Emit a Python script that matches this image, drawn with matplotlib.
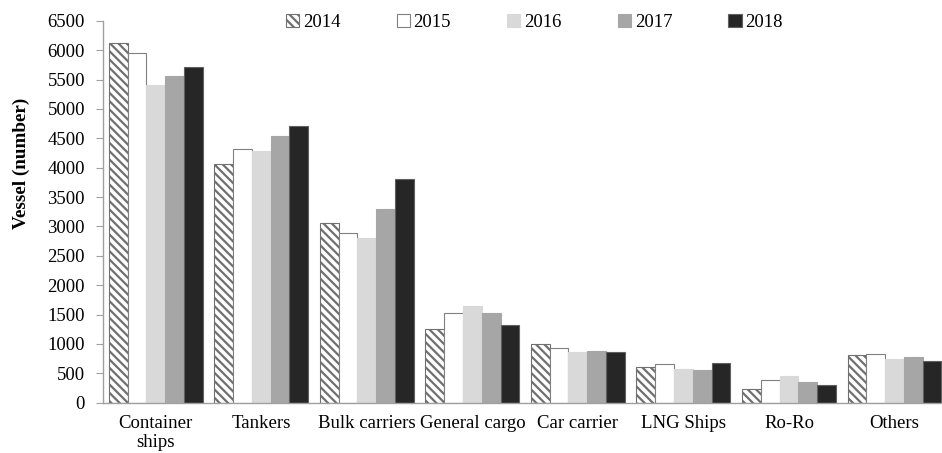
import numpy as np
import matplotlib.pyplot as plt

# vessel counts per ship type
categories = ["Container\nships", "Tankers", "Bulk carriers", "General cargo",
              "Car carrier", "LNG Ships", "Ro-Ro", "Others"]
years = ["2014", "2015", "2016", "2017", "2018"]
v2014 = [6130, 4058, 3052, 1262, 1001, 608, 227, 813]
v2015 = [5950, 4314, 2881, 1528, 932, 665, 387, 824]
v2016 = [5410, 4285, 2796, 1654, 870, 568, 455, 750]
v2017 = [5563, 4535, 3290, 1529, 887, 563, 358, 779]
v2018 = [5712, 4717, 3813, 1325, 864, 677, 302, 711]
series = [v2014, v2015, v2016, v2017, v2018]

# bar styling per year
faces = ["white", "white", "#d9d9d9", "#a6a6a6", "#262626"]
edges = ["#707070", "#808080", "#d9d9d9", "#a6a6a6", "#606060"]
hatches = ["\\\\\\\\", None, None, None, None]

plt.rcParams["font.family"] = ["Liberation Serif", "DejaVu Serif"]
plt.rcParams["font.size"] = 13.5
plt.rcParams["hatch.color"] = "#9a9a9a"
plt.rcParams["hatch.linewidth"] = 1.6

fig = plt.figure(figsize=(9.42, 4.53), dpi=100)
ax = fig.add_axes([0.1093, 0.111, 0.8907, 0.843])

x = np.arange(len(categories))
w = 0.178
for i, vals in enumerate(series):
    ax.bar(x + (i - 2) * w, vals, width=w, color=faces[i], edgecolor=edges[i],
           linewidth=0.8, hatch=hatches[i], label=years[i])

ax.set_xlim(-0.5, 7.45)
ax.set_ylim(0, 6500)
ax.set_yticks(np.arange(0, 6501, 500))
ax.set_xticks(x)
ax.set_xticklabels(categories, linespacing=1.1)
ax.tick_params(axis="x", length=0, pad=9)
ax.tick_params(axis="y", length=5, color="#a0a0a0", direction="out", pad=8)

for s in ["top", "right"]:
    ax.spines[s].set_visible(False)
for s in ["left", "bottom"]:
    ax.spines[s].set_color("#a0a0a0")
    ax.spines[s].set_linewidth(1.0)

ax.set_ylabel("Vessel (number)", fontweight="bold", fontsize=13.8)
ax.yaxis.set_label_coords(-0.087, 0.628)

ax.legend(ncol=5, loc="center left", bbox_to_anchor=(286 / 942, 0.950),
          bbox_transform=fig.transFigure, frameon=False, borderpad=0,
          borderaxespad=0, handlelength=0.7, handleheight=0.7,
          handletextpad=0.2, columnspacing=3.0)

fig.savefig("out.png", dpi=100)
